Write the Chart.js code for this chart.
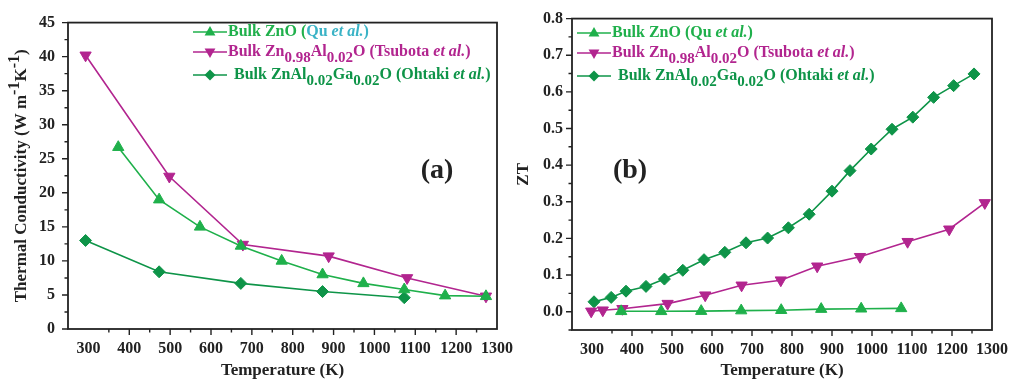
<!DOCTYPE html>
<html>
<head>
<meta charset="utf-8">
<script src="https://cdn.jsdelivr.net/npm/chart.js"></script>
<style>
  body { margin: 0; background: #fff; }
  #wrap { position: relative; width: 1018px; height: 381px; overflow: hidden; }
  #boxA { position: absolute; left: 0; top: 0; width: 530px; height: 381px; }
  #boxB { position: absolute; left: 510px; top: 0; width: 508px; height: 381px; }
</style>
</head>
<body>
<div id="wrap">
  <div id="boxA"><canvas id="chartA"></canvas></div>
  <div id="boxB"><canvas id="chartB"></canvas></div>
</div>
<script>
// panel (a): thermal conductivity
const tempQuA = [373, 473, 573, 673, 773, 873, 973, 1073, 1173, 1273];
const kappaQu = [26.7, 19.0, 15.0, 12.2, 10.0, 8.0, 6.7, 5.8, 4.9, 4.8];
const tempTsuA = [293, 498, 678, 888, 1080, 1273];
const kappaTsu = [40.2, 22.4, 12.4, 10.7, 7.5, 4.8];
const tempOhtA = [293, 473, 673, 873, 1073];
const kappaOht = [13.0, 8.4, 6.7, 5.5, 4.6];

// panel (b): ZT
const tempQuB = [373, 473, 573, 673, 773, 873, 973, 1073];
const ztQu = [0.001, 0.001, 0.0015, 0.003, 0.004, 0.007, 0.008, 0.009];
const tempTsuB = [298, 327, 376, 489, 583, 674, 772, 863, 970, 1089, 1193, 1282];
const ztTsu = [0.001, 0.004, 0.008, 0.022, 0.045, 0.072, 0.086, 0.124, 0.150, 0.191, 0.225, 0.297];
const tempOhtB = [305, 348, 385, 435, 481, 527, 580, 632, 685, 739, 791, 843, 900, 945, 998, 1050, 1102, 1154, 1204, 1255];
const ztOht = [0.027, 0.039, 0.056, 0.069, 0.089, 0.113, 0.142, 0.162, 0.188, 0.201, 0.229, 0.266, 0.329, 0.385, 0.444, 0.498, 0.531, 0.585, 0.617, 0.649];

const tempTicks = [300, 400, 500, 600, 700, 800, 900, 1000, 1100, 1200, 1300];
const kappaTicks = [0, 5, 10, 15, 20, 25, 30, 35, 40, 45];
const ztTicks = [0.0, 0.1, 0.2, 0.3, 0.4, 0.5, 0.6, 0.7, 0.8];

const cQu = '#1fb04b';
const cQuRef = '#3ab3c6';
const cTsu = '#b2258f';
const cOht = '#0e9448';
const FONT = "'Liberation Serif', 'Times New Roman', serif";

const pts = (xs, ys) => xs.map((x, i) => ({ x: x, y: ys[i] }));

function series(label, xs, ys, color, style, rot) {
  return {
    label: label,
    data: pts(xs, ys),
    borderColor: color,
    backgroundColor: color,
    borderWidth: 1.6,
    pointStyle: style,
    pointRotation: rot || 0,
    pointRadius: style === 'rectRot' ? 6 : 6.5,
    pointBorderWidth: 1,
    tension: 0
  };
}

function marker(ctx, style, x, y, r, color) {
  ctx.save();
  ctx.fillStyle = color;
  ctx.beginPath();
  if (style === 'up') {
    ctx.moveTo(x, y - r); ctx.lineTo(x + r * 0.9, y + r * 0.6); ctx.lineTo(x - r * 0.9, y + r * 0.6);
  } else if (style === 'down') {
    ctx.moveTo(x, y + r); ctx.lineTo(x + r * 0.9, y - r * 0.6); ctx.lineTo(x - r * 0.9, y - r * 0.6);
  } else {
    ctx.moveTo(x, y - r); ctx.lineTo(x + r, y); ctx.lineTo(x, y + r); ctx.lineTo(x - r, y);
  }
  ctx.closePath();
  ctx.fill();
  ctx.restore();
}

// draws text made of pieces, some lowered (sub) or raised (sup)
function richText(ctx, segs, x, y, size) {
  let cx = x;
  segs.forEach(s => {
    const fs = s.sub || s.sup ? size - 1 : size;
    ctx.font = (s.italic ? 'italic ' : '') + 'bold ' + fs + 'px ' + FONT;
    ctx.fillStyle = s.color || '#222';
    ctx.textBaseline = 'middle';
    ctx.textAlign = 'left';
    const dy = s.sub ? 6 : (s.sup ? -7 : 0);
    ctx.fillText(s.t, cx, y + dy);
    cx += ctx.measureText(s.t).width;
  });
  return cx - x;
}

function textWidth(ctx, segs, size) {
  let w = 0;
  segs.forEach(s => {
    const fs = s.sub || s.sup ? size - 1 : size;
    ctx.font = (s.italic ? 'italic ' : '') + 'bold ' + fs + 'px ' + FONT;
    w += ctx.measureText(s.t).width;
  });
  return w;
}

const decorPlugin = {
  id: 'decor',
  afterDraw(chart, args, opts) {
    const ctx = chart.ctx;
    const a = chart.chartArea;
    const xs = chart.scales.x, ys = chart.scales.y;
    ctx.save();
    // frame
    ctx.strokeStyle = '#222';
    ctx.lineWidth = 1.8;
    ctx.strokeRect(a.left, a.top, a.right - a.left, a.bottom - a.top);
    // ticks, outward
    ctx.lineWidth = 1.4;
    ctx.beginPath();
    for (let v = 350; v < 1300; v += 50) {
      const px = xs.getPixelForValue(v);
      const len = v % 100 === 0 ? 6 : 3.5;
      ctx.moveTo(px, a.bottom); ctx.lineTo(px, a.bottom + len);
    }
    opts.yMinor.forEach(v => {
      const py = ys.getPixelForValue(v);
      ctx.moveTo(a.left, py); ctx.lineTo(a.left - 3.5, py);
    });
    opts.yMajor.forEach(v => {
      const py = ys.getPixelForValue(v);
      ctx.moveTo(a.left, py); ctx.lineTo(a.left - 6, py);
    });
    ctx.stroke();

    // y title
    ctx.save();
    ctx.translate(opts.yTitleX, (a.top + a.bottom) / 2);
    ctx.rotate(-Math.PI / 2);
    const w = textWidth(ctx, opts.yTitle, 17);
    richText(ctx, opts.yTitle, -w / 2, 0, 17);
    ctx.restore();

    // panel label
    ctx.font = 'bold 28px ' + FONT;
    ctx.fillStyle = '#222';
    ctx.textAlign = 'center';
    ctx.textBaseline = 'middle';
    ctx.fillText(opts.panel.t, opts.panel.x, opts.panel.y);

    // legend
    opts.legend.forEach(it => {
      ctx.strokeStyle = it.color;
      ctx.lineWidth = 1.6;
      ctx.beginPath();
      ctx.moveTo(it.x, it.y); ctx.lineTo(it.x + 34, it.y);
      ctx.stroke();
      marker(ctx, it.marker, it.x + 17, it.y, it.marker === 'diamond' ? 5.5 : 6, it.color);
      richText(ctx, it.segs, it.x + 35 + (it.gap || 0), it.y, 16);
    });
    ctx.restore();
  }
};

function legendItems(x, y0, quRefColor) {
  return [
    { x: x, y: y0, color: cQu, marker: 'up', segs: [
      { t: 'Bulk ZnO (', color: cQu }, { t: 'Qu ', color: quRefColor }, { t: 'et al.', italic: true, color: quRefColor }, { t: ')', color: quRefColor }
    ] },
    { x: x, y: y0 + 20, color: cTsu, marker: 'down', segs: [
      { t: 'Bulk Zn', color: cTsu }, { t: '0.98', sub: true, color: cTsu }, { t: 'Al', color: cTsu }, { t: '0.02', sub: true, color: cTsu },
      { t: 'O (Tsubota ', color: cTsu }, { t: 'et al.', italic: true, color: cTsu }, { t: ')', color: cTsu }
    ] },
    { x: x, y: y0 + 43, color: cOht, marker: 'diamond', gap: 6, segs: [
      { t: 'Bulk ZnAl', color: cOht }, { t: '0.02', sub: true, color: cOht }, { t: 'Ga', color: cOht }, { t: '0.02', sub: true, color: cOht },
      { t: 'O (Ohtaki ', color: cOht }, { t: 'et al.', italic: true, color: cOht }, { t: ')', color: cOht }
    ] }
  ];
}

function makeChart(id, cfg) {
  return new Chart(document.getElementById(id), {
    type: 'line',
    data: { datasets: cfg.datasets },
    options: {
      responsive: true,
      maintainAspectRatio: false,
      animation: false,
      layout: { padding: { left: 0, right: cfg.padRight, top: 17, bottom: 0 } },
      plugins: {
        legend: { display: false },
        tooltip: { enabled: false },
        decor: cfg.decor
      },
      scales: {
        x: {
          type: 'linear',
          min: 250,
          max: 1300,
          afterBuildTicks: s => { s.ticks = tempTicks.map(v => ({ value: v })); },
          afterFit: s => { s.height = cfg.xHeight; },
          grid: { display: false, drawTicks: false },
          border: { display: false },
          ticks: { color: '#222', padding: 10, maxRotation: 0, autoSkip: false, callback: v => String(v), font: { family: FONT, size: 16, weight: 'bold' } },
          title: { display: true, text: 'Temperature (K)', color: '#222', padding: { top: 0, bottom: 0 }, font: { family: FONT, size: 17, weight: 'bold' } }
        },
        y: {
          type: 'linear',
          min: cfg.yMin,
          max: cfg.yMax,
          afterBuildTicks: s => { s.ticks = cfg.yTicks.map(v => ({ value: v })); },
          afterFit: s => { s.width = cfg.yWidth; },
          grid: { display: false, drawTicks: false },
          border: { display: false },
          ticks: { color: '#222', padding: cfg.yPad, autoSkip: false, callback: cfg.yFmt, font: { family: FONT, size: 16, weight: 'bold' } }
        }
      }
    },
    plugins: [decorPlugin]
  });
}

makeChart('chartA', {
  datasets: [
    series('Bulk ZnO (Qu et al.)', tempQuA, kappaQu, cQu, 'triangle'),
    series('Bulk Zn0.98Al0.02O (Tsubota et al.)', tempTsuA, kappaTsu, cTsu, 'triangle', 180),
    series('Bulk ZnAl0.02Ga0.02O (Ohtaki et al.)', tempOhtA, kappaOht, cOht, 'rectRot')
  ],
  padRight: 33,
  xHeight: 52,
  yWidth: 68,
  yPad: 13,
  yMin: 0,
  yMax: 45,
  yTicks: kappaTicks,
  yFmt: v => String(v),
  decor: {
    yMajor: kappaTicks,
    yMinor: kappaTicks.slice(0, -1).map(v => v + 2.5),
    yTitleX: 22,
    yTitle: [{ t: 'Thermal Conductivity (W m' }, { t: '-1', sup: true }, { t: 'K' }, { t: '-1', sup: true }, { t: ')' }],
    panel: { t: '(a)', x: 437, y: 171 },
    legend: legendItems(193, 32, cQuRef)
  }
});

makeChart('chartB', {
  datasets: [
    series('Bulk ZnO (Qu et al.)', tempQuB, ztQu, cQu, 'triangle'),
    series('Bulk Zn0.98Al0.02O (Tsubota et al.)', tempTsuB, ztTsu, cTsu, 'triangle', 180),
    series('Bulk ZnAl0.02Ga0.02O (Ohtaki et al.)', tempOhtB, ztOht, cOht, 'rectRot')
  ],
  padRight: 18,
  xHeight: 51,
  yWidth: 62,
  yPad: 9,
  yMin: -0.05,
  yMax: 0.8,
  yTicks: ztTicks,
  yFmt: v => v.toFixed(1),
  decor: {
    yMajor: ztTicks,
    yMinor: ztTicks.slice(0, -1).map(v => v + 0.05).concat([-0.05]),
    yTitleX: 14,
    yTitle: [{ t: 'ZT' }],
    panel: { t: '(b)', x: 120, y: 171 },
    legend: legendItems(67, 33, cQu)
  }
});
</script>
</body>
</html>
